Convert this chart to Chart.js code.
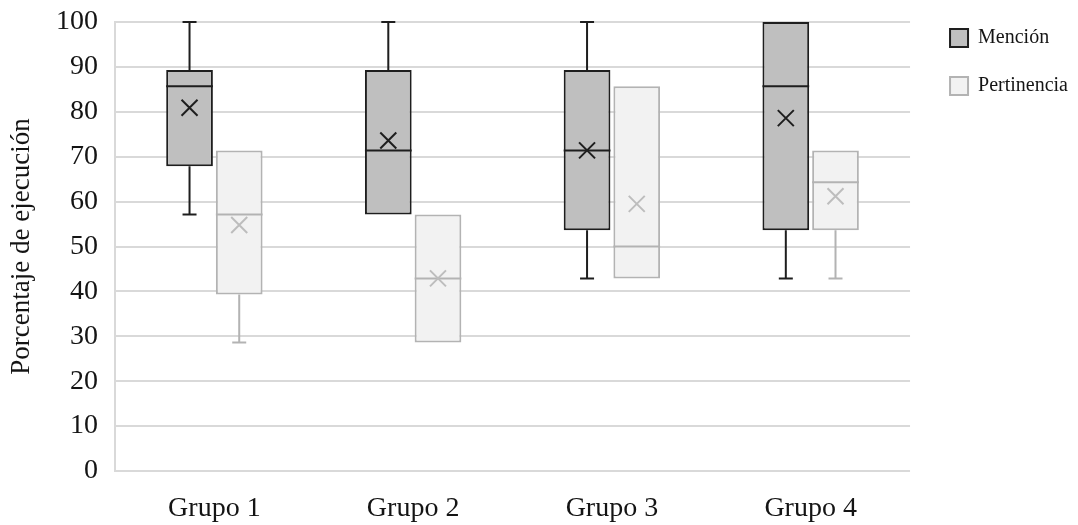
<!DOCTYPE html>
<html>
<head>
<meta charset="utf-8">
<script src="https://cdn.jsdelivr.net/npm/chart.js@4.4.1/dist/chart.umd.min.js"></script>
<style>
  body { margin: 0; background: #fff; }
  #wrap { width: 1078px; height: 525px; }
</style>
</head>
<body>
<div id="wrap"><canvas id="boxChart"></canvas></div>
<script>
const categories = ['Grupo 1', 'Grupo 2', 'Grupo 3', 'Grupo 4'];
const yTicks = [0, 10, 20, 30, 40, 50, 60, 70, 80, 90, 100];

// Mención
const mencionMin = [57.1, 57.1, 42.9, 42.9];
const mencionQ1 = [67.9, 57.1, 53.6, 53.6];
const mencionMedian = [85.7, 71.4, 71.4, 85.7];
const mencionQ3 = [89.3, 89.3, 89.3, 100];
const mencionMax = [100, 100, 100, 100];
const mencionMean = [80.9, 73.6, 71.4, 78.6];

// Pertinencia
const pertinenciaMin = [28.6, 28.6, 42.9, 42.9];
const pertinenciaQ1 = [39.3, 28.6, 42.9, 53.6];
const pertinenciaMedian = [57.1, 42.9, 50, 64.3];
const pertinenciaQ3 = [71.4, 57.1, 85.7, 71.4];
const pertinenciaMax = [71.4, 57.1, 85.7, 71.4];
const pertinenciaMean = [54.8, 42.9, 59.5, 61.2];

const serif = 'Liberation Serif';
const textColor = '#141414';

function boxes(q1, q3) {
    return q1.map((v, i) => [v, q3[i]]);
}

// whiskers, median line and the mean cross for each box
const boxExtras = {
    id: 'boxExtras',
    afterDatasetsDraw(chart) {
        const ctx = chart.ctx;
        const y = chart.scales.y;
        chart.data.datasets.forEach((ds, di) => {
            const meta = chart.getDatasetMeta(di);
            const st = ds.stats;
            meta.data.forEach((bar, i) => {
                const x = bar.x;
                const half = bar.width / 2;
                ctx.save();
                ctx.strokeStyle = ds.borderColor;
                ctx.lineWidth = 2;
                // median
                const ym = y.getPixelForValue(st.median[i]);
                ctx.beginPath();
                ctx.moveTo(x - half, ym);
                ctx.lineTo(x + half, ym);
                ctx.stroke();
                // whiskers
                const yq3 = y.getPixelForValue(st.q3[i]);
                const yMax = y.getPixelForValue(st.max[i]);
                const yq1 = y.getPixelForValue(st.q1[i]);
                const yMin = y.getPixelForValue(st.min[i]);
                const cap = 7;
                if (st.max[i] > st.q3[i]) {
                    ctx.beginPath();
                    ctx.moveTo(x, yq3);
                    ctx.lineTo(x, yMax);
                    ctx.moveTo(x - cap, yMax);
                    ctx.lineTo(x + cap, yMax);
                    ctx.stroke();
                }
                if (st.min[i] < st.q1[i]) {
                    ctx.beginPath();
                    ctx.moveTo(x, yq1);
                    ctx.lineTo(x, yMin);
                    ctx.moveTo(x - cap, yMin);
                    ctx.lineTo(x + cap, yMin);
                    ctx.stroke();
                }
                // mean
                const yMean = y.getPixelForValue(st.mean[i]);
                const s = 8;
                ctx.strokeStyle = ds.meanColor;
                ctx.lineWidth = 2;
                ctx.beginPath();
                ctx.moveTo(x - s, yMean - s);
                ctx.lineTo(x + s, yMean + s);
                ctx.moveTo(x + s, yMean - s);
                ctx.lineTo(x - s, yMean + s);
                ctx.stroke();
                ctx.restore();
            });
        });
    }
};

const ctx = document.getElementById('boxChart').getContext('2d');
const chart = new Chart(ctx, {
    type: 'bar',
    data: {
        labels: categories,
        datasets: [{
            label: 'Mención',
            data: boxes(mencionQ1, mencionQ3),
            backgroundColor: '#bfbfbf',
            borderColor: '#1e1e1e',
            meanColor: '#1e1e1e',
            borderWidth: 2,
            borderSkipped: false,
            stats: { min: mencionMin, q1: mencionQ1, median: mencionMedian, q3: mencionQ3, max: mencionMax, mean: mencionMean }
        }, {
            label: 'Pertinencia',
            data: boxes(pertinenciaQ1, pertinenciaQ3),
            backgroundColor: '#f2f2f2',
            borderColor: '#b3b3b3',
            meanColor: '#bdbdbd',
            borderWidth: 2,
            borderSkipped: false,
            stats: { min: pertinenciaMin, q1: pertinenciaQ1, median: pertinenciaMedian, q3: pertinenciaQ3, max: pertinenciaMax, mean: pertinenciaMean }
        }]
    },
    options: {
        responsive: true,
        maintainAspectRatio: false,
        animation: false,
        categoryPercentage: 0.5,
        barPercentage: 0.94,
        layout: { padding: 0 },
        plugins: {
            tooltip: { enabled: false },
            legend: {
                position: 'right',
                align: 'start',
                labels: {
                    boxWidth: 18,
                    boxHeight: 18,
                    padding: 28,
                    color: textColor,
                    font: { family: serif, size: 20 }
                }
            }
        },
        scales: {
            x: {
                grid: { display: false },
                border: { display: false },
                ticks: {
                    color: textColor,
                    padding: 13,
                    font: { family: serif, size: 28 }
                },
                afterFit(scale) { scale.height = 54; }
            },
            y: {
                min: 0,
                max: 100,
                afterBuildTicks(scale) {
                    scale.ticks = yTicks.map(v => ({ value: v }));
                },
                grid: { color: '#d9d9d9', lineWidth: 2, drawTicks: false },
                border: { display: true, color: '#d9d9d9', width: 2 },
                ticks: {
                    color: textColor,
                    padding: 17,
                    font: { family: serif, size: 28 }
                },
                title: {
                    display: true,
                    text: 'Porcentaje de ejecución',
                    color: textColor,
                    padding: { top: 6, bottom: 0 },
                    font: { family: serif, size: 27 }
                },
                afterFit(scale) {
                    scale.width = 115;
                    scale.paddingTop = 22;
                }
            },
            // empty strip between the plot and the legend
            gap: {
                position: 'right',
                display: true,
                grid: { display: false },
                border: { display: false },
                ticks: { display: false },
                afterFit(scale) { scale.width = 12; }
            }
        }
    },
    plugins: [boxExtras]
});
</script>
</body>
</html>
